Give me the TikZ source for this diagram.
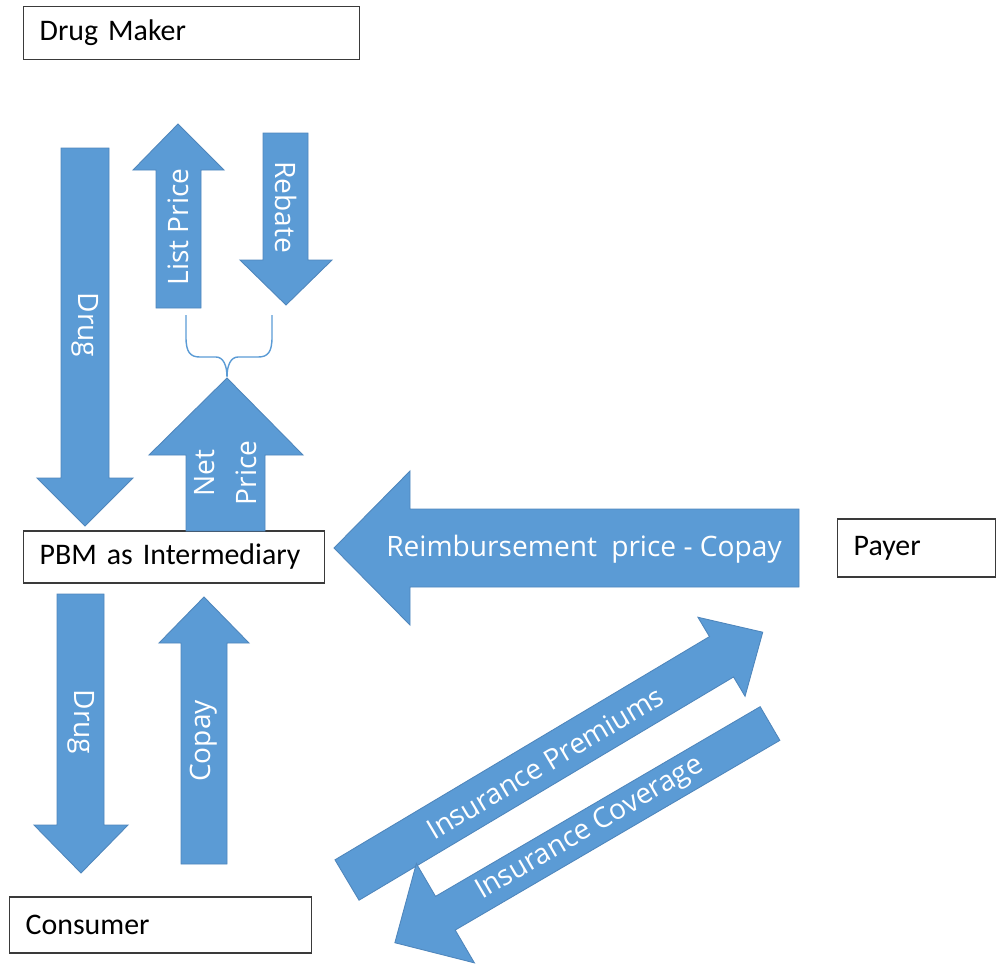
\documentclass[tikz,border=0pt]{standalone}
\usepackage{fontspec}
\setmainfont{Carlito}
\newfontfamily\flowfont{Open Sans}
\newcommand{\partyfont}{\fontsize{17}{20}\selectfont\spaceskip=3.4pt\relax}
\definecolor{flowblue}{HTML}{5B9BD5}
\definecolor{flowedge}{HTML}{4F86BC}
\definecolor{partyedge}{HTML}{3A3A3A}
\tikzset{
  party/.style={draw=partyedge, line width=0.8pt, fill=white, anchor=west,
    inner xsep=0.32cm, inner ysep=0pt, align=left, font=\partyfont},
  flow/.style={fill=flowblue, draw=flowedge, line width=0.5pt},
  flowlabel/.style={text=white, inner sep=0pt, align=center,
    font=\flowfont\fontsize{16}{24}\selectfont},
  bracket/.style={draw=flowblue, line width=0.8pt}
}

\begin{document}
\begin{tikzpicture}[x=0.02cm, y=-0.02cm]
    \useasboundingbox (0,0) rectangle (997,965);

    % the parties
    \node[party, text width=6.08cm, minimum height=1.06cm] (maker) at (23,33) {Drug Maker};
    \node[party, text width=5.38cm, minimum height=1.04cm] (pbm) at (23,557) {PBM as Intermediary};
    \node[party, text width=2.52cm, minimum height=1.16cm] (payer) at (837,548) {Payer};
    \node[party, text width=5.40cm, minimum height=1.12cm] (consumer) at (9,925) {Consumer};

    % drug maker <-> PBM
    \draw[flow] (61,148) -- (109,148) -- (109,478) -- (133,478) -- (85,526)
      -- (37,478) -- (61,478) -- cycle;
    \node[flowlabel, rotate=-90] (drugin) at (85,325) {Drug};
    \draw[flow] (156,308) -- (201,308) -- (201,170) -- (224,170) -- (178,124)
      -- (133,170) -- (156,170) -- cycle;
    \node[flowlabel, rotate=90] (listprice) at (178,227) {List Price};
    \draw[flow] (263,133) -- (308,133) -- (308,260) -- (332,260) -- (286,305)
      -- (240,260) -- (263,260) -- cycle;
    \node[flowlabel, rotate=-90] (rebate) at (286,207) {Rebate};
    \draw[bracket] (186,315) -- (186,337) .. controls (186,352) and (190,357) .. (200,357)
      -- (216,357) .. controls (223,357) and (227,365) .. (227,377)
      .. controls (227,365) and (231,357) .. (238,357)
      -- (258,357) .. controls (268,357) and (272,352) .. (272,337) -- (272,315);
    \draw[flow] (186,531) -- (265,531) -- (265,455) -- (303,455) -- (227,378)
      -- (149,455) -- (186,455) -- cycle;
    \node[flowlabel, rotate=90] (netprice) at (226,473) {Net\\Price};

    % payer -> PBM
    \draw[flow] (799,509) -- (799,587) -- (410,587) -- (410,625) -- (334,548)
      -- (410,471) -- (410,509) -- cycle;
    \node[flowlabel] (reimb) at (584,549) {Reimbursement\hspace{0.25em} price - Copay};

    % PBM <-> consumer
    \draw[flow] (57,594) -- (104,594) -- (104,825) -- (128,825) -- (81,873)
      -- (34,825) -- (57,825) -- cycle;
    \node[flowlabel, rotate=-90] (drugout) at (81,722) {Drug};
    \draw[flow] (181,864) -- (227,864) -- (227,643) -- (249,643) -- (204,597)
      -- (159,643) -- (181,643) -- cycle;
    \node[flowlabel, rotate=90] (copay) at (204,741) {Copay};

    % consumer <-> payer
    \begin{scope}[shift={(347,880)}, rotate=30.8]
      \draw[flow] (0,-23.5) -- (436,-23.5) -- (436,-46) -- (484,0) -- (436,46)
        -- (436,23.5) -- (0,23.5) -- cycle;
    \end{scope}
    \node[flowlabel, rotate=30.8] (premiums) at (545,763) {Insurance Premiums};
    \begin{scope}[shift={(770,723.5)}, rotate=210.3]
      \draw[flow] (0,-19.5) -- (376,-19.5) -- (376,-57.5) -- (434.5,0) -- (376,57.5)
        -- (376,19.5) -- (0,19.5) -- cycle;
    \end{scope}
    \node[flowlabel, rotate=30.3] (coverage) at (590,829) {Insurance Coverage};
\end{tikzpicture}
\end{document}
